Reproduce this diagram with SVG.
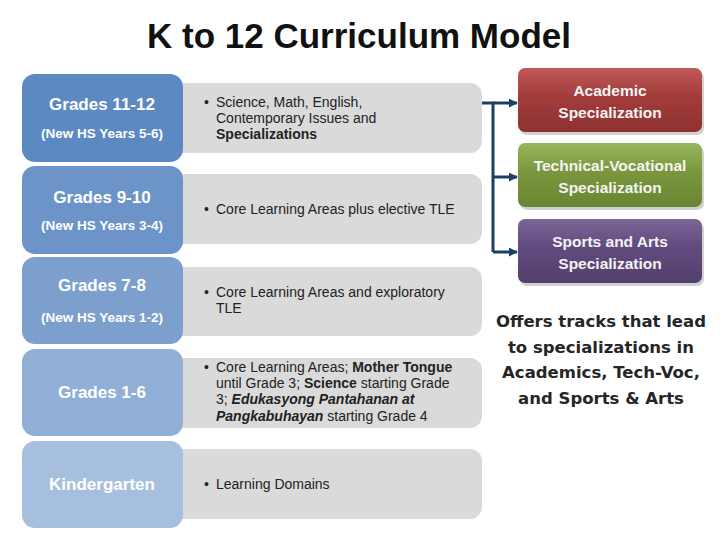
<svg xmlns="http://www.w3.org/2000/svg" width="720" height="540" viewBox="0 0 720 540">
  <defs>
    <style>
      .title { font-family: "Liberation Sans", Arial, sans-serif; font-weight: bold; font-size: 35px; fill: #111; }
      .grade { font-family: "Liberation Sans", Arial, sans-serif; font-weight: bold; font-size: 17px; fill: #ffffff; text-anchor: middle; }
      .sub { font-family: "Liberation Sans", Arial, sans-serif; font-weight: bold; font-size: 13.5px; fill: #ffffff; text-anchor: middle; }
      .desc { font-family: "Liberation Sans", Arial, sans-serif; font-size: 14px; fill: #222; }
      .b { font-weight: bold; }
      .bi { font-weight: bold; font-style: italic; }
      .gray { fill: #dadada; }
      .spec { font-family: "Liberation Sans", Arial, sans-serif; font-weight: bold; font-size: 15.5px; fill: #f4f4f4; text-anchor: middle; }
      .offer { font-family: "DejaVu Sans", sans-serif; font-weight: bold; font-size: 16.5px; fill: #262626; text-anchor: middle; }
      .conn { stroke: #1f3e66; stroke-width: 3; fill: none; }
      .shadow { fill: #000; opacity: 0.18; }
    </style>
    <linearGradient id="gRed" x1="0" y1="0" x2="0" y2="1">
      <stop offset="0" stop-color="#c05a58"/>
      <stop offset="0.45" stop-color="#a23c3b"/>
      <stop offset="1" stop-color="#8e3231"/>
    </linearGradient>
    <linearGradient id="gGreen" x1="0" y1="0" x2="0" y2="1">
      <stop offset="0" stop-color="#97b55a"/>
      <stop offset="0.45" stop-color="#7a973d"/>
      <stop offset="1" stop-color="#6a8533"/>
    </linearGradient>
    <linearGradient id="gPurple" x1="0" y1="0" x2="0" y2="1">
      <stop offset="0" stop-color="#7c6698"/>
      <stop offset="0.45" stop-color="#614b7e"/>
      <stop offset="1" stop-color="#53406d"/>
    </linearGradient>
    <marker id="arrow" viewBox="0 0 10 10" refX="9" refY="5" markerWidth="3" markerHeight="3" orient="auto" markerUnits="strokeWidth">
      <path d="M0,0 L10,5 L0,10 Z" fill="#1f3e66"/>
    </marker>
  </defs>

  <rect width="720" height="540" fill="#ffffff"/>

  <text class="title" x="359" y="48" text-anchor="middle">K to 12 Curriculum Model</text>

  <!-- Row 1 -->
  <g id="row-grades-11-12">
    <rect class="gray" x="170" y="83" width="312" height="70" rx="12"/>
    <rect x="22" y="74" width="161" height="88" rx="13" fill="#5d89c3"/>
    <text class="grade" x="102" y="110">Grades 11-12</text>
    <text class="sub" x="102" y="138">(New HS Years 5-6)</text>
    <text class="desc" x="204" y="107">•</text>
    <text class="desc" x="216" y="107">Science, Math, English,</text>
    <text class="desc" x="216" y="123">Contemporary Issues and</text>
    <text class="desc b" x="216" y="139">Specializations</text>
  </g>

  <!-- Row 2 -->
  <g id="row-grades-9-10">
    <rect class="gray" x="170" y="174" width="312" height="70" rx="12"/>
    <rect x="22" y="166" width="161" height="88" rx="13" fill="#6c94c8"/>
    <text class="grade" x="102" y="203">Grades 9-10</text>
    <text class="sub" x="102" y="230">(New HS Years 3-4)</text>
    <text class="desc" x="204" y="214">•</text>
    <text class="desc" x="216" y="214">Core Learning Areas plus elective TLE</text>
  </g>

  <!-- Row 3 -->
  <g id="row-grades-7-8">
    <rect class="gray" x="170" y="267" width="312" height="69" rx="12"/>
    <rect x="22" y="257" width="161" height="87" rx="13" fill="#7d9fce"/>
    <text class="grade" x="102" y="291">Grades 7-8</text>
    <text class="sub" x="102" y="322">(New HS Years 1-2)</text>
    <text class="desc" x="204" y="297">•</text>
    <text class="desc" x="216" y="297">Core Learning Areas and exploratory</text>
    <text class="desc" x="216" y="313">TLE</text>
  </g>

  <!-- Row 4 -->
  <g id="row-grades-1-6">
    <rect class="gray" x="170" y="358" width="312" height="70" rx="12"/>
    <rect x="22" y="349" width="161" height="87" rx="13" fill="#90afd6"/>
    <text class="grade" x="102" y="398">Grades 1-6</text>
    <text class="desc" x="204" y="372">•</text>
    <text class="desc" x="216" y="372">Core Learning Areas; <tspan class="b">Mother Tongue</tspan></text>
    <text class="desc" x="216" y="388">until Grade 3; <tspan class="b">Science</tspan> starting Grade</text>
    <text class="desc" x="216" y="404">3; <tspan class="bi">Edukasyong Pantahanan at</tspan></text>
    <text class="desc" x="216" y="421"><tspan class="bi">Pangkabuhayan</tspan> starting Grade 4</text>
  </g>

  <!-- Row 5 -->
  <g id="row-kindergarten">
    <rect class="gray" x="170" y="449" width="312" height="70" rx="12"/>
    <rect x="22" y="441" width="161" height="87" rx="13" fill="#a7bfde"/>
    <text class="grade" x="102" y="490">Kindergarten</text>
    <text class="desc" x="204" y="489">•</text>
    <text class="desc" x="216" y="489">Learning Domains</text>
  </g>

  <!-- Connectors -->
  <g id="connectors">
    <path class="conn" d="M482,103 H493 V252"/>
    <line class="conn" x1="493" y1="103" x2="517" y2="103" marker-end="url(#arrow)"/>
    <line class="conn" x1="493" y1="177" x2="517" y2="177" marker-end="url(#arrow)"/>
    <line class="conn" x1="493" y1="252" x2="517" y2="252" marker-end="url(#arrow)"/>
  </g>

  <!-- Specializations -->
  <g id="academic">
    <rect class="shadow" x="520" y="71" width="184" height="64" rx="7"/>
    <rect x="518" y="68" width="184" height="64" rx="7" fill="url(#gRed)"/>
    <text class="spec" x="610" y="96">Academic</text>
    <text class="spec" x="610" y="118">Specialization</text>
  </g>
  <g id="tech-voc">
    <rect class="shadow" x="520" y="146" width="184" height="64" rx="7"/>
    <rect x="518" y="143" width="184" height="64" rx="7" fill="url(#gGreen)"/>
    <text class="spec" x="610" y="171">Technical-Vocational</text>
    <text class="spec" x="610" y="193">Specialization</text>
  </g>
  <g id="sports-arts">
    <rect class="shadow" x="520" y="222" width="184" height="64" rx="7"/>
    <rect x="518" y="219" width="184" height="64" rx="7" fill="url(#gPurple)"/>
    <text class="spec" x="610" y="247">Sports and Arts</text>
    <text class="spec" x="610" y="269">Specialization</text>
  </g>

  <g id="offers-note">
    <text class="offer" x="601" y="327">Offers tracks that lead</text>
    <text class="offer" x="601" y="353">to specializations in</text>
    <text class="offer" x="601" y="378">Academics, Tech-Voc,</text>
    <text class="offer" x="601" y="404">and Sports &amp; Arts</text>
  </g>
</svg>
